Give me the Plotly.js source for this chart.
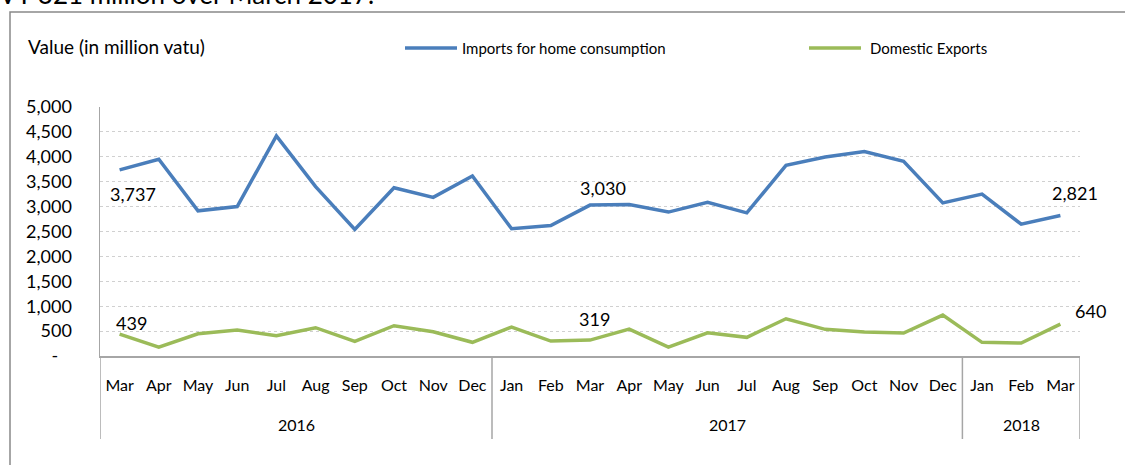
<!DOCTYPE html>
<html>
<head>
<meta charset="utf-8">
<script src="https://cdn.plot.ly/plotly-3.0.1.min.js"></script>
<style>
  html, body { margin: 0; padding: 0; background: #ffffff; }
  #chart { width: 1125px; height: 465px; }
</style>
</head>
<body>
<div id="chart"></div>
<script>
// ---- Data ----
const years = ["2016","2016","2016","2016","2016","2016","2016","2016","2016","2016",
               "2017","2017","2017","2017","2017","2017","2017","2017","2017","2017","2017","2017",
               "2018","2018","2018"];
const months = ["Mar","Apr","May","Jun","Jul","Aug","Sep","Oct","Nov","Dec",
                "Jan","Feb","Mar","Apr","May","Jun","Jul","Aug","Sep","Oct","Nov","Dec",
                "Jan","Feb","Mar"];
const imports = [3737, 3950, 2915, 3000, 4420, 3400, 2540, 3380, 3185, 3615,
                 2555, 2620, 3030, 3040, 2890, 3085, 2875, 3830, 3995, 4105, 3910, 3075,
                 3250, 2647, 2821];
const exportsDom = [439, 180, 445, 520, 405, 568, 295, 608, 487, 275,
                    582, 300, 319, 541, 180, 467, 375, 748, 535, 481, 461, 822,
                    274, 261, 640];
const yearGroups = ["2016", "2017", "2018"];
const yTickVals = [0, 500, 1000, 1500, 2000, 2500, 3000, 3500, 4000, 4500, 5000];
const yTickText = ["-\u00a0\u00a0\u00a0", "500", "1,000", "1,500", "2,000", "2,500", "3,000", "3,500", "4,000", "4,500", "5,000"];
const seriesNames = ["Imports for home consumption", "Domestic Exports"];
const labelIdx = [0, 12, 24];

const FONT = "Lato, 'Open Sans', sans-serif";
const BLUE = "#4a7ebb";
const GREEN = "#9bbb59";
const AXC = "#a6a6a6";

// unique category keys, displayed as month names
const cats = years.map((y, i) => y + "-" + months[i]);

const traces = [
  { type: "scatter", mode: "lines", name: seriesNames[0], x: cats, y: imports,
    line: { color: BLUE, width: 3.5 }, hoverinfo: "skip", showlegend: false },
  { type: "scatter", mode: "lines", name: seriesNames[1], x: cats, y: exportsDom,
    line: { color: GREEN, width: 3.5 }, hoverinfo: "skip", showlegend: false }
];

function fmt(v) { return v.toLocaleString("en-US"); }

// px -> paper helpers (plot area: x 100..1080, y 107..356)
const px = v => (v - 100) / 980;
const py = v => (356 - v) / 249;

const annotations = [];
const shapes = [];

// data labels (offsets in px)
const impOff = [[13, -24], [13, 17], [15, 23]];
const expOff = [[12, 11], [4, 21], [30, 13]];
labelIdx.forEach((i, k) => {
  annotations.push({ xref: "x", yref: "y", x: i, y: imports[i], text: fmt(imports[i]),
    showarrow: false, xshift: impOff[k][0], yshift: impOff[k][1],
    font: { family: FONT, size: 18, color: "#000" } });
  annotations.push({ xref: "x", yref: "y", x: i, y: exportsDom[i], text: fmt(exportsDom[i]),
    showarrow: false, xshift: expOff[k][0], yshift: expOff[k][1],
    font: { family: FONT, size: 18, color: "#000" } });
});

// year group labels and dividers, derived from the years array
const bounds = [-0.5];
yearGroups.forEach(g => {
  const first = years.indexOf(g), last = years.lastIndexOf(g);
  annotations.push({ xref: "x", yref: "paper", x: (first + last) / 2, y: py(424), yanchor: "middle",
    text: g, showarrow: false, font: { family: FONT, size: 16, color: "#000" } });
  bounds.push(last + 0.5);
});
bounds.forEach(b => {
  shapes.push({ type: "line", xref: "x", yref: "paper", x0: b, x1: b, y0: py(356), y1: py(439),
    line: { color: AXC, width: 1.5 } });
});

// axis title
annotations.push({ xref: "paper", yref: "paper", x: px(26), y: py(46), xanchor: "left", yanchor: "middle",
  text: "Value (in million vatu)", showarrow: false, font: { family: FONT, size: 19, color: "#000" } });
// legend
annotations.push({ xref: "paper", yref: "paper", x: px(460), y: py(48), xanchor: "left", yanchor: "middle",
  text: seriesNames[0], showarrow: false, font: { family: FONT, size: 15, color: "#000" } });
annotations.push({ xref: "paper", yref: "paper", x: px(868), y: py(48), xanchor: "left", yanchor: "middle",
  text: seriesNames[1], showarrow: false, font: { family: FONT, size: 15, color: "#000" } });
shapes.push({ type: "line", xref: "paper", yref: "paper", x0: px(405), x1: px(457), y0: py(48), y1: py(48),
  line: { color: BLUE, width: 3.5 } });
shapes.push({ type: "line", xref: "paper", yref: "paper", x0: px(809), x1: px(861), y0: py(48), y1: py(48),
  line: { color: GREEN, width: 3.5 } });
// cut-off text at top (from surrounding document)
annotations.push({ xref: "paper", yref: "paper", x: px(-3), y: py(12), xanchor: "left", yanchor: "bottom",
  text: "VT 321 million over March 2017.", showarrow: false, font: { family: FONT, size: 26, color: "#000" } });

// outer frame
shapes.push({ type: "rect", xref: "paper", yref: "paper", x0: px(10), x1: px(1140), y0: py(480), y1: py(12),
  line: { color: "#898989", width: 1.5 }, fillcolor: "rgba(0,0,0,0)", layer: "below" });

const layout = {
  width: 1125, height: 465,
  margin: { l: 100, r: 45, t: 107, b: 109 },
  paper_bgcolor: "#ffffff", plot_bgcolor: "#ffffff",
  font: { family: FONT, color: "#000" },
  showlegend: false,
  xaxis: {
    type: "category",
    tickvals: cats, ticktext: months,
    showline: true, linecolor: AXC, linewidth: 1.5,
    showgrid: false, zeroline: false, ticks: "", ticklabelstandoff: 14,
    tickfont: { family: FONT, size: 16, color: "#000" },
    range: [-0.5, 24.5]
  },
  yaxis: {
    range: [0, 5000], tickvals: yTickVals, ticktext: yTickText,
    showline: true, linecolor: AXC, linewidth: 1.5,
    showgrid: true, gridcolor: "#d0d0d0", griddash: "dot", gridwidth: 1,
    zeroline: false, ticks: "", ticklabelstandoff: 23,
    tickfont: { family: FONT, size: 18, color: "#000" }
  },
  annotations: annotations,
  shapes: shapes
};

Plotly.newPlot("chart", traces, layout, { staticPlot: true, displayModeBar: false });
</script>
</body>
</html>
